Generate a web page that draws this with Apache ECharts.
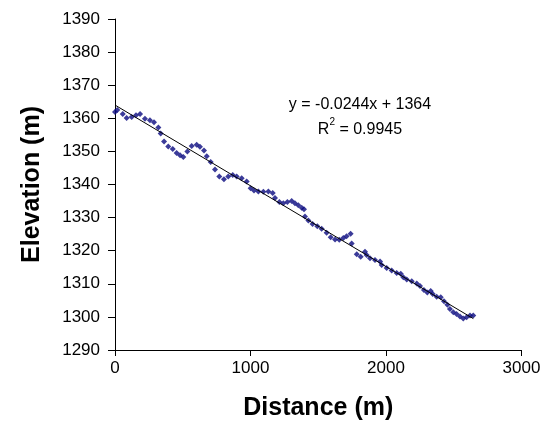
<!DOCTYPE html>
<html><head><meta charset="utf-8">
<script src="https://cdn.jsdelivr.net/npm/echarts@6/dist/echarts.min.js"></script>
<style>html,body{margin:0;padding:0;background:#fff}#c{width:550px;height:426px}</style>
</head><body><div id="c"></div>
<script>
var distance = [0,17,57,86,123,155,185,221,258,288,320,337,362,393,426,455,480,504,534,566,603,627,657,677,706,738,770,804,836,869,898,935,972,1001,1026,1058,1095,1132,1164,1181,1213,1242,1272,1304,1328,1353,1378,1395,1402,1427,1458,1493,1525,1562,1592,1624,1655,1685,1709,1739,1747,1784,1813,1845,1857,1882,1919,1956,1968,2005,2042,2079,2109,2128,2153,2190,2227,2251,2280,2305,2330,2345,2374,2404,2428,2453,2472,2497,2521,2546,2570,2595,2620,2644];
var elevation = [1361.9,1362.5,1361.3,1360.1,1360.4,1360.9,1361.3,1359.9,1359.4,1358.8,1357.2,1355.4,1353.0,1351.5,1350.7,1349.5,1348.8,1348.3,1350.0,1351.6,1352.0,1351.4,1350.3,1348.5,1346.8,1344.5,1342.4,1341.6,1342.4,1342.9,1342.4,1341.9,1340.9,1338.9,1338.2,1337.9,1337.8,1337.9,1337.4,1335.9,1334.7,1334.3,1334.7,1335.0,1334.3,1333.7,1333.0,1332.5,1330.3,1329.1,1328.1,1327.4,1326.6,1325.4,1324.1,1323.4,1323.3,1323.8,1324.4,1325.1,1322.2,1318.9,1318.2,1319.7,1318.7,1317.7,1317.2,1316.7,1315.7,1314.8,1314.0,1313.3,1313.0,1312.0,1311.3,1310.8,1310.1,1309.3,1308.1,1307.4,1307.8,1306.9,1306.1,1305.9,1304.7,1303.7,1302.4,1301.4,1300.9,1300.1,1299.5,1299.9,1300.4,1300.4];
var slope = -0.0244, intercept = 1364;
var xTicks = [0,1000,2000,3000];
var yTicks = [1290,1300,1310,1320,1330,1340,1350,1360,1370,1380,1390];

var pts = distance.map(function(d,i){return [d, elevation[i]];});
var xEnd = distance[distance.length-1];
var trend = [[0, intercept], [xEnd, intercept + slope*xEnd]];
var F = "'Liberation Sans', Arial, sans-serif";

var chart = echarts.init(document.getElementById('c'), null, {renderer:'canvas'});
chart.setOption({
  animation:false,
  backgroundColor:'#fff',
  grid:{left:115, right:28.5, top:19, bottom:69, containLabel:false},
  title:{
    text:'{a|y = -0.0244x + 1364}\n{b|R}{s|2}{b| = 0.9945}',
    left:355, top:87, textAlign:'center',
    textStyle:{fontWeight:'normal', rich:{
      a:{fontFamily:F,fontSize:16,fontWeight:'normal',color:'#000',lineHeight:25,align:'center'},
      b:{fontFamily:F,fontSize:16,fontWeight:'normal',color:'#000',lineHeight:25},
      s:{fontFamily:F,fontSize:10,fontWeight:'normal',color:'#000',verticalAlign:'top',padding:[0,0,8,0]}
    }}
  },
  xAxis:{
    type:'value', min:xTicks[0], max:xTicks[xTicks.length-1], interval:1000,
    name:'Distance (m)', nameLocation:'middle', nameGap:46,
    nameTextStyle:{fontFamily:F,fontSize:25,fontWeight:'bold',color:'#000'},
    axisLine:{show:true,onZero:false,lineStyle:{color:'#000',width:1}},
    axisTick:{show:true,length:6,lineStyle:{color:'#000'}},
    axisLabel:{fontFamily:F,fontSize:17,color:'#000',margin:10,formatter:function(v){return String(v);}},
    splitLine:{show:false}
  },
  yAxis:{
    type:'value', min:yTicks[0], max:yTicks[yTicks.length-1], interval:10,
    name:'Elevation (m)', nameLocation:'middle', nameGap:70, nameRotate:90,
    nameTextStyle:{fontFamily:F,fontSize:25,fontWeight:'bold',color:'#000'},
    axisLine:{show:true,onZero:false,lineStyle:{color:'#000',width:1}},
    axisTick:{show:true,length:7,lineStyle:{color:'#000'}},
    axisLabel:{fontFamily:F,fontSize:17,color:'#000',margin:15,formatter:function(v){return String(v);}},
    splitLine:{show:false}
  },
  series:[
    {type:'scatter', data:pts, symbol:'diamond', symbolSize:6,
     itemStyle:{color:'#0a0a80'}, z:2},
    {type:'line', data:trend, symbol:'none', lineStyle:{color:'#000',width:1}, z:3}
  ]
});
</script></body></html>
